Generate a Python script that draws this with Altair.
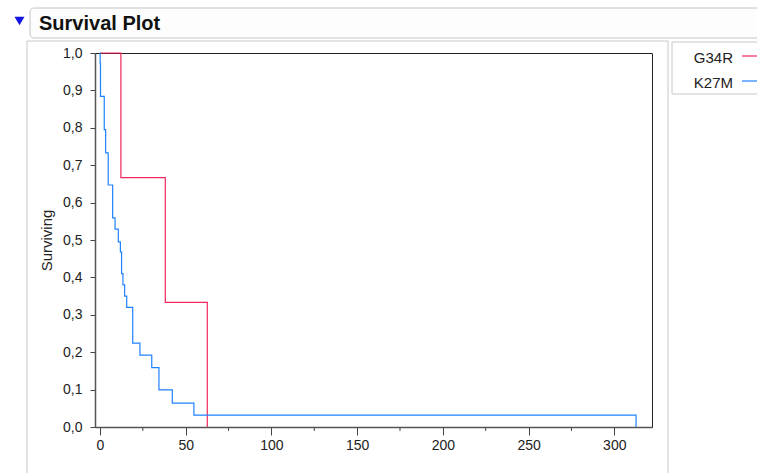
import altair as alt
import pandas as pd

# ---- data ----
groups = ["G34R", "K27M"]
colors = ["#F0285A", "#1E82FF"]

g34r_time = [0, 12.2, 38.1, 62.6]
g34r_surv = [1.0, 0.667, 0.333, 0.0]

k27m_time = [0, 0.1, 0.3, 2.5, 3.3, 4.8, 7.4, 8.8, 10.7, 11.9, 12.6, 13.4,
             14.4, 15.6, 19.1, 23.3, 30.2, 34.4, 42.2, 54.8, 312.7]
k27m_surv = [1.0, 0.973, 0.884, 0.795, 0.733, 0.647, 0.559, 0.529, 0.495, 0.468,
             0.41, 0.38, 0.35, 0.32, 0.224, 0.192, 0.159, 0.099, 0.064, 0.032, 0.0]

x_ticks = [0, 50, 100, 150, 200, 250, 300]
x_minor = [25, 75, 125, 175, 225, 275]
y_ticks = [0.0, 0.1, 0.2, 0.3, 0.4, 0.5, 0.6, 0.7, 0.8, 0.9, 1.0]

title_text = "Survival Plot"
y_title = "Surviving"

FONT = "Liberation Sans"

curve_df = pd.concat([
    pd.DataFrame({"time": g34r_time, "surv": g34r_surv, "group": "G34R", "order": range(len(g34r_time))}),
    pd.DataFrame({"time": k27m_time, "surv": k27m_surv, "group": "K27M", "order": range(len(k27m_time))}),
], ignore_index=True)

W, H = 557, 374
one = pd.DataFrame({"a": [0]})

x_scale = alt.Scale(domain=[-2.9, 322], nice=False, zero=False)
y_scale = alt.Scale(domain=[0, 1], nice=False)

x_axis = alt.Axis(values=x_ticks, format="d", tickSize=8, labelPadding=3,
                  grid=False, labelFontSize=14, labelFont=FONT,
                  labelColor="#222", domainColor="#555", domainWidth=1.5,
                  tickColor="#444", labelFlush=False)
y_axis = alt.Axis(values=y_ticks, tickSize=5, labelPadding=8, grid=False,
                  labelExpr="replace(format(datum.value, '.1f'), '.', ',')",
                  labelFontSize=14, labelFont=FONT, labelColor="#222",
                  domainColor="#555", domainWidth=1.5, tickColor="#444",
                  titleFont=FONT, titleFontSize=15, titleFontWeight="normal",
                  titleColor="#222", titlePadding=8, labelFlush=False)

# ---- decorations (layout, outside plot area) ----
header_box = alt.Chart(one).mark_rect(
    fill="#fdfdfd", stroke="#c4c4c4", strokeWidth=1, cornerRadius=4
).encode(x=alt.value(-65), x2=alt.value(675), y=alt.value(-45), y2=alt.value(-15))

header_tri = alt.Chart(one).mark_point(
    shape="triangle-down", filled=True, color="#1414e6", size=100, opacity=1
).encode(x=alt.value(-75.5), y=alt.value(-32))

header_text = alt.Chart(one).mark_text(
    text=title_text, font=FONT, fontSize=20, fontWeight="bold", align="left",
    baseline="alphabetic", color="#111"
).encode(x=alt.value(-56), y=alt.value(-23.5))

panel_left = alt.Chart(one).mark_rule(color="#c8c8c8", strokeWidth=1).encode(
    x=alt.value(-68), y=alt.value(-12), y2=alt.value(425))
panel_top = alt.Chart(one).mark_rule(color="#c8c8c8", strokeWidth=1).encode(
    x=alt.value(-68), x2=alt.value(573), y=alt.value(-12))
panel_right = alt.Chart(one).mark_rule(color="#c8c8c8", strokeWidth=1).encode(
    x=alt.value(573), y=alt.value(-12), y2=alt.value(425))

legend_box = alt.Chart(one).mark_rect(
    fill="white", stroke="#c8c8c8", strokeWidth=1
).encode(x=alt.value(577), x2=alt.value(670), y=alt.value(-11), y2=alt.value(41))

legend_layers = []
for i, (g, c) in enumerate(zip(groups, colors)):
    ldf = pd.DataFrame({"group": [g]})
    legend_layers.append(
        alt.Chart(ldf).mark_text(font=FONT, fontSize=15, align="right",
                                 baseline="middle", color="#222").encode(
            text="group:N", x=alt.value(638), y=alt.value(4.5 + 25 * i))
    )
    legend_layers.append(
        alt.Chart(ldf).mark_rule(color=c, strokeWidth=1.2).encode(
            x=alt.value(647), x2=alt.value(665), y=alt.value(3 + 25 * i))
    )

# ---- curves ----
curves = alt.Chart(curve_df).mark_line(interpolate="step-after", strokeWidth=1.2).encode(
    x=alt.X("time:Q", scale=x_scale, title=None, axis=x_axis),
    y=alt.Y("surv:Q", scale=y_scale, title=y_title, axis=y_axis),
    color=alt.Color("group:N", scale=alt.Scale(domain=groups, range=colors), legend=None),
    order="order:Q",
)

# ---- minor x ticks ----
minor = alt.Chart(pd.DataFrame({"t": x_minor})).mark_rule(color="#444", strokeWidth=1).encode(
    x=alt.X("t:Q", scale=x_scale, title=None, axis=x_axis),
    y=alt.value(H), y2=alt.value(H + 4),
)

chart = alt.layer(
    header_box, header_tri, header_text, panel_left, panel_top, panel_right,
    legend_box, *legend_layers, curves, minor
).properties(
    width=W, height=H,
    autosize=alt.AutoSizeParams(type="none"),
    padding={"left": 95, "top": 53, "right": 105, "bottom": 46},
    background="white",
).configure_view(stroke="#222", strokeWidth=1)

chart.save("out.html", embed_options={"renderer": "svg", "actions": False})
